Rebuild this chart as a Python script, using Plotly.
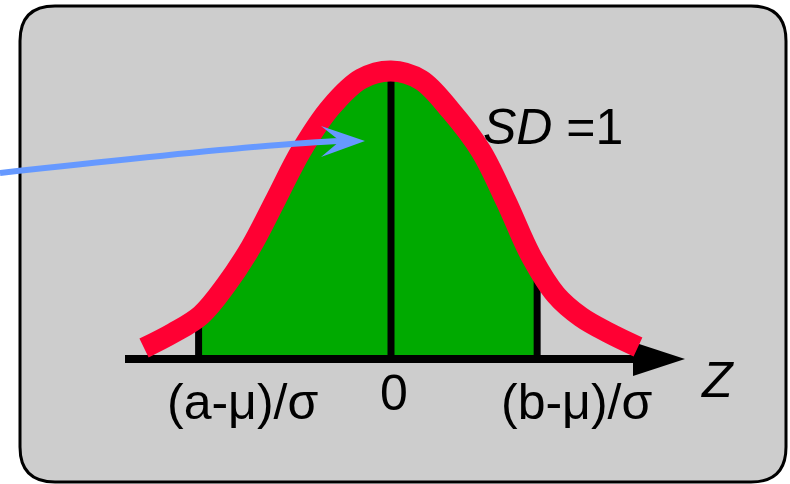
import plotly.graph_objects as go

# ---- data (z units / density units) ----
curve_z = [-2.670, -2.357, -2.054, -1.784, -1.514, -1.243, -0.973, -0.649, -0.324, 0.000,
           0.324, 0.649, 0.973, 1.243, 1.514, 1.784, 2.054, 2.357, 2.670]
curve_density = [0.0153, 0.0361, 0.0611, 0.1028, 0.1556, 0.2222, 0.2889, 0.3500, 0.3889, 0.4000,
                 0.3875, 0.3444, 0.2889, 0.2194, 0.1431, 0.0889, 0.0583, 0.0361, 0.0167]
a_z, b_z = -2.08, 1.58
a_density, b_density = 0.059, 0.130
peak_density = 0.400
tick_labels = ["(a-\u03bc)/\u03c3", "0", "(b-\u03bc)/\u03c3"]
tick_label_z = [-1.61, 0.03, 2.01]
axis_label = "<i>Z</i>"
sd_label = "<i>SD</i> =1"

# ---- geometry helpers (pixel <-> data for decorations) ----
W, H = 790, 484
PX_PER_Z = 92.5
Z0_PX = 391.0
BASE_PX = 359.0
DENS_PER_PX = 0.4 / 288.0


def pz(px):
    return (px - Z0_PX) / PX_PER_Z


def pd(py):
    return (BASE_PX - py) * DENS_PER_PX


x_range = [pz(0), pz(W)]
y_range = [pd(H), pd(0)]

RED = "#FF0033"
GREEN = "#00AA00"
BLUE = "#6699FF"
GREY = "#CDCDCD"
FONT = "Liberation Sans Narrow, Arial Narrow, Liberation Sans, Arial, sans-serif"
FS = 50

fig = go.Figure()

# green shaded area between a and b
shade_z = [a_z] + [z for z in curve_z if a_z < z < b_z] + [b_z]
shade_d = [a_density] + [d for z, d in zip(curve_z, curve_density) if a_z < z < b_z] + [b_density]
fig.add_trace(go.Scatter(x=shade_z, y=shade_d, mode="lines",
                         line=dict(width=0, shape="spline", smoothing=1.0),
                         fill="tozeroy", fillcolor=GREEN, hoverinfo="skip"))

# vertical black lines at a, 0, b
fig.add_trace(go.Scatter(x=[a_z, a_z, None, 0, 0, None, b_z, b_z],
                         y=[0, a_density, None, 0, peak_density, None, 0, b_density],
                         mode="lines", line=dict(color="black", width=7), hoverinfo="skip"))

# horizontal axis with arrow head
axis_start = pz(125)
arrow_base = pz(633)
arrow_tip = pz(685)
half_h = 17 * DENS_PER_PX
fig.add_trace(go.Scatter(x=[axis_start, arrow_base + 0.05], y=[0, 0], mode="lines",
                         line=dict(color="black", width=8), hoverinfo="skip"))
fig.add_trace(go.Scatter(x=[arrow_base, arrow_tip, arrow_base, arrow_base],
                         y=[half_h, 0, -half_h, half_h], mode="lines", fill="toself",
                         fillcolor="black", line=dict(color="black", width=0), hoverinfo="skip"))

# red normal curve
fig.add_trace(go.Scatter(x=curve_z, y=curve_density, mode="lines",
                         line=dict(color=RED, width=21, shape="spline", smoothing=1.0),
                         hoverinfo="skip"))

shapes = []
# rounded grey box (paper coords)
bx0, by0, bx1, by1, r = 20, 6, 786, 482, 35


def P(x, y):
    return f"{x / W:.5f},{1 - y / H:.5f}"


box_path = (f"M {P(bx0 + r, by0)} L {P(bx1 - r, by0)} Q {P(bx1, by0)} {P(bx1, by0 + r)} "
            f"L {P(bx1, by1 - r)} Q {P(bx1, by1)} {P(bx1 - r, by1)} "
            f"L {P(bx0 + r, by1)} Q {P(bx0, by1)} {P(bx0, by1 - r)} "
            f"L {P(bx0, by0 + r)} Q {P(bx0, by0)} {P(bx0 + r, by0)} Z")
shapes.append(dict(type="path", xref="paper", yref="paper", path=box_path,
                   fillcolor=GREY, line=dict(color="black", width=3), layer="below"))

# blue curved pointer arrow
shaft = (f"M {pz(0)},{pd(173)} Q {pz(272)},{pd(143)} {pz(341)},{pd(141)}")
shapes.append(dict(type="path", xref="x", yref="y", path=shaft,
                   line=dict(color=BLUE, width=6), layer="above"))
head = (f"M {pz(365)},{pd(141)} L {pz(321)},{pd(126)} L {pz(340)},{pd(141)} "
        f"L {pz(321)},{pd(157)} Z")
shapes.append(dict(type="path", xref="x", yref="y", path=head,
                   fillcolor=BLUE, line=dict(color=BLUE, width=0), layer="above"))

annotations = []
for lab, z in zip(tick_labels, tick_label_z):
    yc = 393 if lab == "0" else 402
    annotations.append(dict(x=z, y=pd(yc), text=lab, showarrow=False, xanchor="center",
                            yanchor="middle", font=dict(family=FONT, size=FS, color="black")))
annotations.append(dict(x=pz(717), y=pd(380), text=axis_label, showarrow=False,
                        xanchor="center", yanchor="middle",
                        font=dict(family=FONT, size=FS, color="black")))
annotations.append(dict(x=pz(553), y=pd(127), text=sd_label, showarrow=False,
                        xanchor="center", yanchor="middle",
                        font=dict(family=FONT, size=FS, color="black")))

fig.update_layout(
    width=W, height=H, margin=dict(l=0, r=0, t=0, b=0),
    paper_bgcolor="white", plot_bgcolor="white", showlegend=False,
    xaxis=dict(range=x_range, visible=False, fixedrange=True),
    yaxis=dict(range=y_range, visible=False, fixedrange=True),
    shapes=shapes, annotations=annotations,
)

fig.write_html("out.html", config={"displayModeBar": False},
               post_script="document.body.style.margin='0';document.body.style.overflow='hidden';")
